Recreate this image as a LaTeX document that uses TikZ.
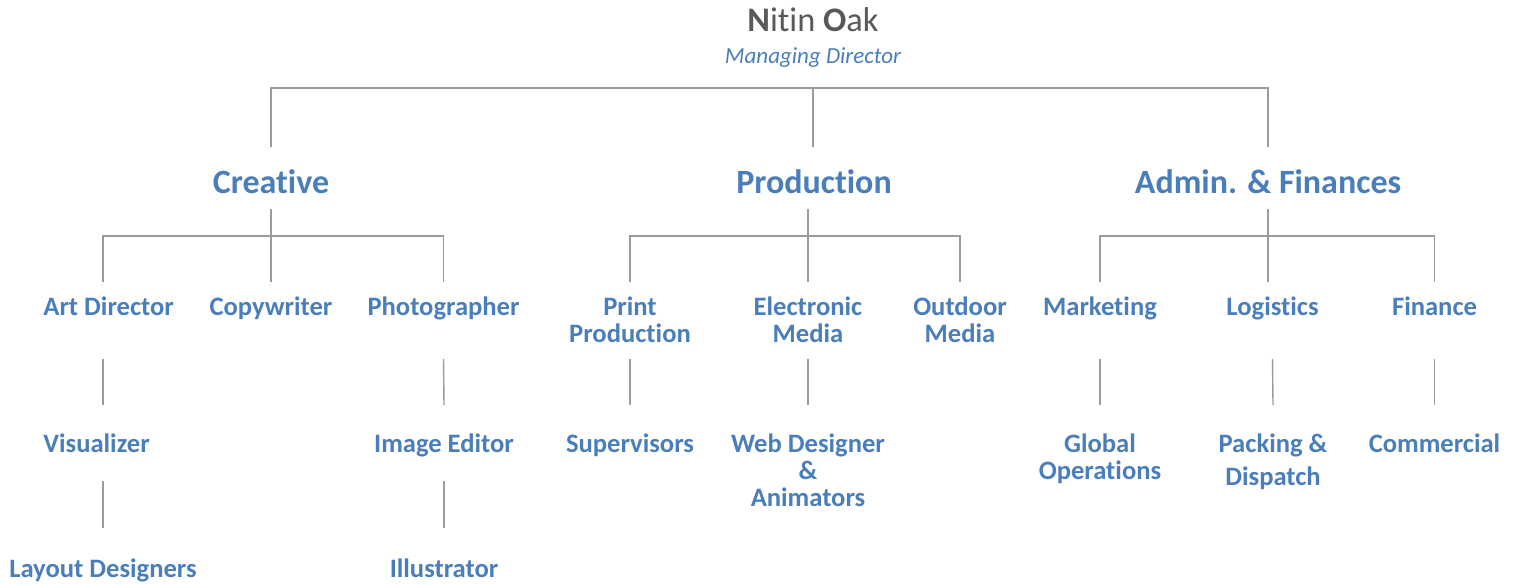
\documentclass[tikz,border=0pt]{standalone}
\usepackage{fontspec}
\setmainfont[Ligatures=NoCommon]{Carlito}
\definecolor{unitblue}{RGB}{74,126,187}
\definecolor{namegray}{RGB}{89,89,89}
\definecolor{linkgray}{RGB}{155,155,155}
\tikzset{
  link/.style={draw=linkgray, line width=0.7pt},
  dept/.style={anchor=base, inner sep=0pt, text=unitblue, font=\fontsize{17}{20}\selectfont\bfseries},
  unit/.style={anchor=base, inner sep=0pt, align=center, text=unitblue, font=\fontsize{13.3}{13.5}\selectfont\bfseries},
}
\begin{document}
\begin{tikzpicture}[x=0.5pt,y=-0.5pt]
\useasboundingbox (0,0) rectangle (1518,583);

% Text Node: managing director
\node (md) [anchor=base, inner sep=0pt, text=namegray, font=\fontsize{17.2}{20}\selectfont] at (813,31.5) {\textbf{N}itin \textbf{O}ak};
\node (mdtitle) [anchor=base, inner sep=0pt, text=unitblue, font=\fontsize{11.5}{14}\selectfont\itshape] at (813,64) {Managing Director};

% Text Node: departments
\node (creative) [dept] at (271,193) {Creative};
\node (production) [dept] at (814,193) {Production};
\node (admin) [dept] at (1268,193) {Admin. \& Finances};

% Text Node: second row (base = last line)
\node (artdir) [unit, anchor=base west] at (43,315) {Art Director};
\node (copy) [unit] at (271,315) {Copywriter};
\node (photo) [unit] at (443.5,315) {Photographer};
\node (print) [unit] at (630,342) {Print\\Production};
\node (elec) [unit] at (808,342) {Electronic\\Media};
\node (outdoor) [unit] at (960,342) {Outdoor\\Media};
\node (mkt) [unit] at (1100,315) {Marketing};
\node (logi) [unit] at (1272.5,315) {Logistics};
\node (fin) [unit] at (1434.5,315) {Finance};

% Text Node: third row
\node (visual) [unit, anchor=base west] at (43,452) {Visualizer};
\node (image) [unit] at (444,452) {Image Editor};
\node (super) [unit] at (630,452) {Supervisors};
\node (web) [unit] at (808,506) {Web Designer\\\&\\Animators};
\node (global) [unit] at (1100,479) {Global\\Operations};
\node (pack) [unit] at (1273,485) {Packing \&\\[3pt]Dispatch};
\node (comm) [unit] at (1434.5,452) {Commercial};

% Text Node: fourth row
\node (layout) [unit] at (103,577) {Layout Designers};
\node (illus) [unit] at (444,577) {Illustrator};

% Lines: managing director to departments
\draw[link] (creative |- 0,147) |- (md |- 0,88) -| (admin |- 0,147);
\draw[link] (md |- 0,88) -- (md |- 0,147);

% Lines: creative
\draw[link] (layout |- 0,282) |- (photo |- 0,236) -- (photo |- 0,282);
\draw[link] (creative |- 0,209) -- (copy |- 0,282);
\draw[link] (layout |- 0,359) -- (layout |- 0,405);
\draw[link] (layout |- 0,481) -- (layout |- 0,528);
\draw[link] (photo |- 0,359) -- (image |- 0,405);
\draw[link] (image |- 0,481) -- (illus |- 0,528);

% Lines: production
\draw[link] (print |- 0,282) |- (outdoor |- 0,236) -- (outdoor |- 0,282);
\draw[link] (elec |- 0,209) -- (elec |- 0,282);
\draw[link] (print |- 0,359) -- (super |- 0,405);
\draw[link] (elec |- 0,359) -- (web |- 0,405);

% Lines: admin
\draw[link] (mkt |- 0,282) |- (fin |- 0,236) -- (fin |- 0,282);
\draw[link] (admin |- 0,209) -- (admin |- 0,282);
\draw[link] (mkt |- 0,359) -- (global |- 0,405);
\draw[link] (logi |- 0,359) -- (pack |- 0,405);
\draw[link] (fin |- 0,359) -- (comm |- 0,405);

\end{tikzpicture}
\end{document}
